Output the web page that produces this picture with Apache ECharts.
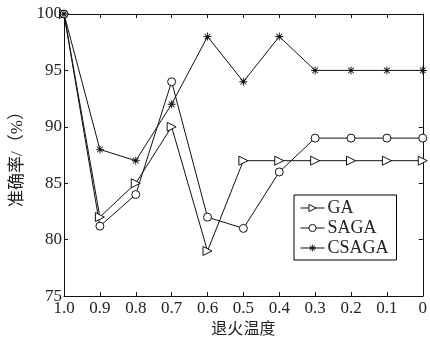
<!DOCTYPE html>
<html>
<head>
<meta charset="utf-8">
<script src="https://cdn.jsdelivr.net/npm/echarts@6/dist/echarts.min.js"></script>
<style>
  html, body { margin: 0; padding: 0; background: #fff; }
  #chart { width: 430px; height: 343px; }
</style>
</head>
<body>
<div id="chart"></div>
<script>
// 退火温度
const temps = ["1.0", "0.9", "0.8", "0.7", "0.6", "0.5", "0.4", "0.3", "0.2", "0.1", "0"];
const gaData = [100, 82, 85, 90, 79, 87, 87, 87, 87, 87, 87];
const sagaData = [100, 81.2, 84, 94, 82, 81, 86, 89, 89, 89, 89];
const csagaData = [100, 88, 87, 92, 98, 94, 98, 95, 95, 95, 95];

const serif = "Liberation Serif, Noto Sans CJK SC";
// 星号标记
const star = "path://M-0.8,-7L0.8,-7L0.8,7L-0.8,7Z M-7,-0.8L7,-0.8L7,0.8L-7,0.8Z " +
  "M-5.5,-4.4L-4.4,-5.5L5.5,4.4L4.4,5.5Z M4.4,-5.5L5.5,-4.4L-4.4,5.5L-5.5,4.4Z";

const chart = echarts.init(document.getElementById("chart"));
const lineStyle = { color: "#111", width: 1 };
const hollow = { color: "#fff", borderColor: "#111", borderWidth: 1 };

chart.setOption({
  animation: false,
  grid: { left: 64, right: 2, top: 14, bottom: 41 },
  legend: {
    orient: "vertical",
    left: 294,
    top: 195,
    padding: [4, 8, 3, 6],
    itemGap: 2,
    itemWidth: 24,
    itemHeight: 9,
    borderColor: "#000",
    borderWidth: 1,
    backgroundColor: "#fff",
    itemStyle: { borderWidth: 1 },
    lineStyle: { width: 1 },
    textStyle: { fontFamily: serif, fontSize: 18, color: "#222", padding: [0, 0, 0, -2] },
    data: ["GA", "SAGA", "CSAGA"],
  },
  xAxis: [
    {
      type: "category",
      data: temps,
      boundaryGap: false,
      name: "退火温度",
      nameLocation: "middle",
      nameGap: 25,
      nameTextStyle: { fontFamily: serif, fontSize: 16, color: "#222" },
      axisLine: { lineStyle: lineStyle },
      axisTick: { inside: true, length: 4, lineStyle: lineStyle },
      axisLabel: { fontFamily: serif, fontSize: 17, color: "#222", margin: 4 },
    },
    {
      type: "category",
      data: temps,
      boundaryGap: false,
      position: "top",
      axisLine: { lineStyle: lineStyle },
      axisTick: { inside: true, length: 4, lineStyle: lineStyle },
      axisLabel: { show: false },
    },
  ],
  yAxis: [
    {
      type: "value",
      min: 75,
      max: 100,
      interval: 5,
      name: "准确率/（%）",
      nameLocation: "middle",
      nameGap: 38,
      nameTextStyle: { fontFamily: serif, fontSize: 17, color: "#222" },
      axisLine: { show: true, lineStyle: lineStyle },
      axisTick: { show: true, inside: true, length: 4, lineStyle: lineStyle },
      splitLine: { show: false },
      axisLabel: { fontFamily: serif, fontSize: 17, color: "#222", margin: 2 },
    },
    {
      type: "value",
      min: 75,
      max: 100,
      interval: 5,
      position: "right",
      axisLine: { show: true, lineStyle: lineStyle },
      axisTick: { show: true, inside: true, length: 4, lineStyle: lineStyle },
      splitLine: { show: false },
      axisLabel: { show: false },
    },
  ],
  series: [
    {
      name: "GA",
      type: "line",
      data: gaData,
      symbol: "triangle",
      symbolRotate: -90,
      symbolSize: 9,
      lineStyle: lineStyle,
      itemStyle: hollow,
    },
    {
      name: "SAGA",
      type: "line",
      data: sagaData,
      symbol: "circle",
      symbolSize: 8,
      lineStyle: lineStyle,
      itemStyle: hollow,
    },
    {
      name: "CSAGA",
      type: "line",
      data: csagaData,
      symbol: star,
      symbolSize: 8,
      lineStyle: lineStyle,
      itemStyle: { color: "#111" },
    },
  ],
});
</script>
</body>
</html>
